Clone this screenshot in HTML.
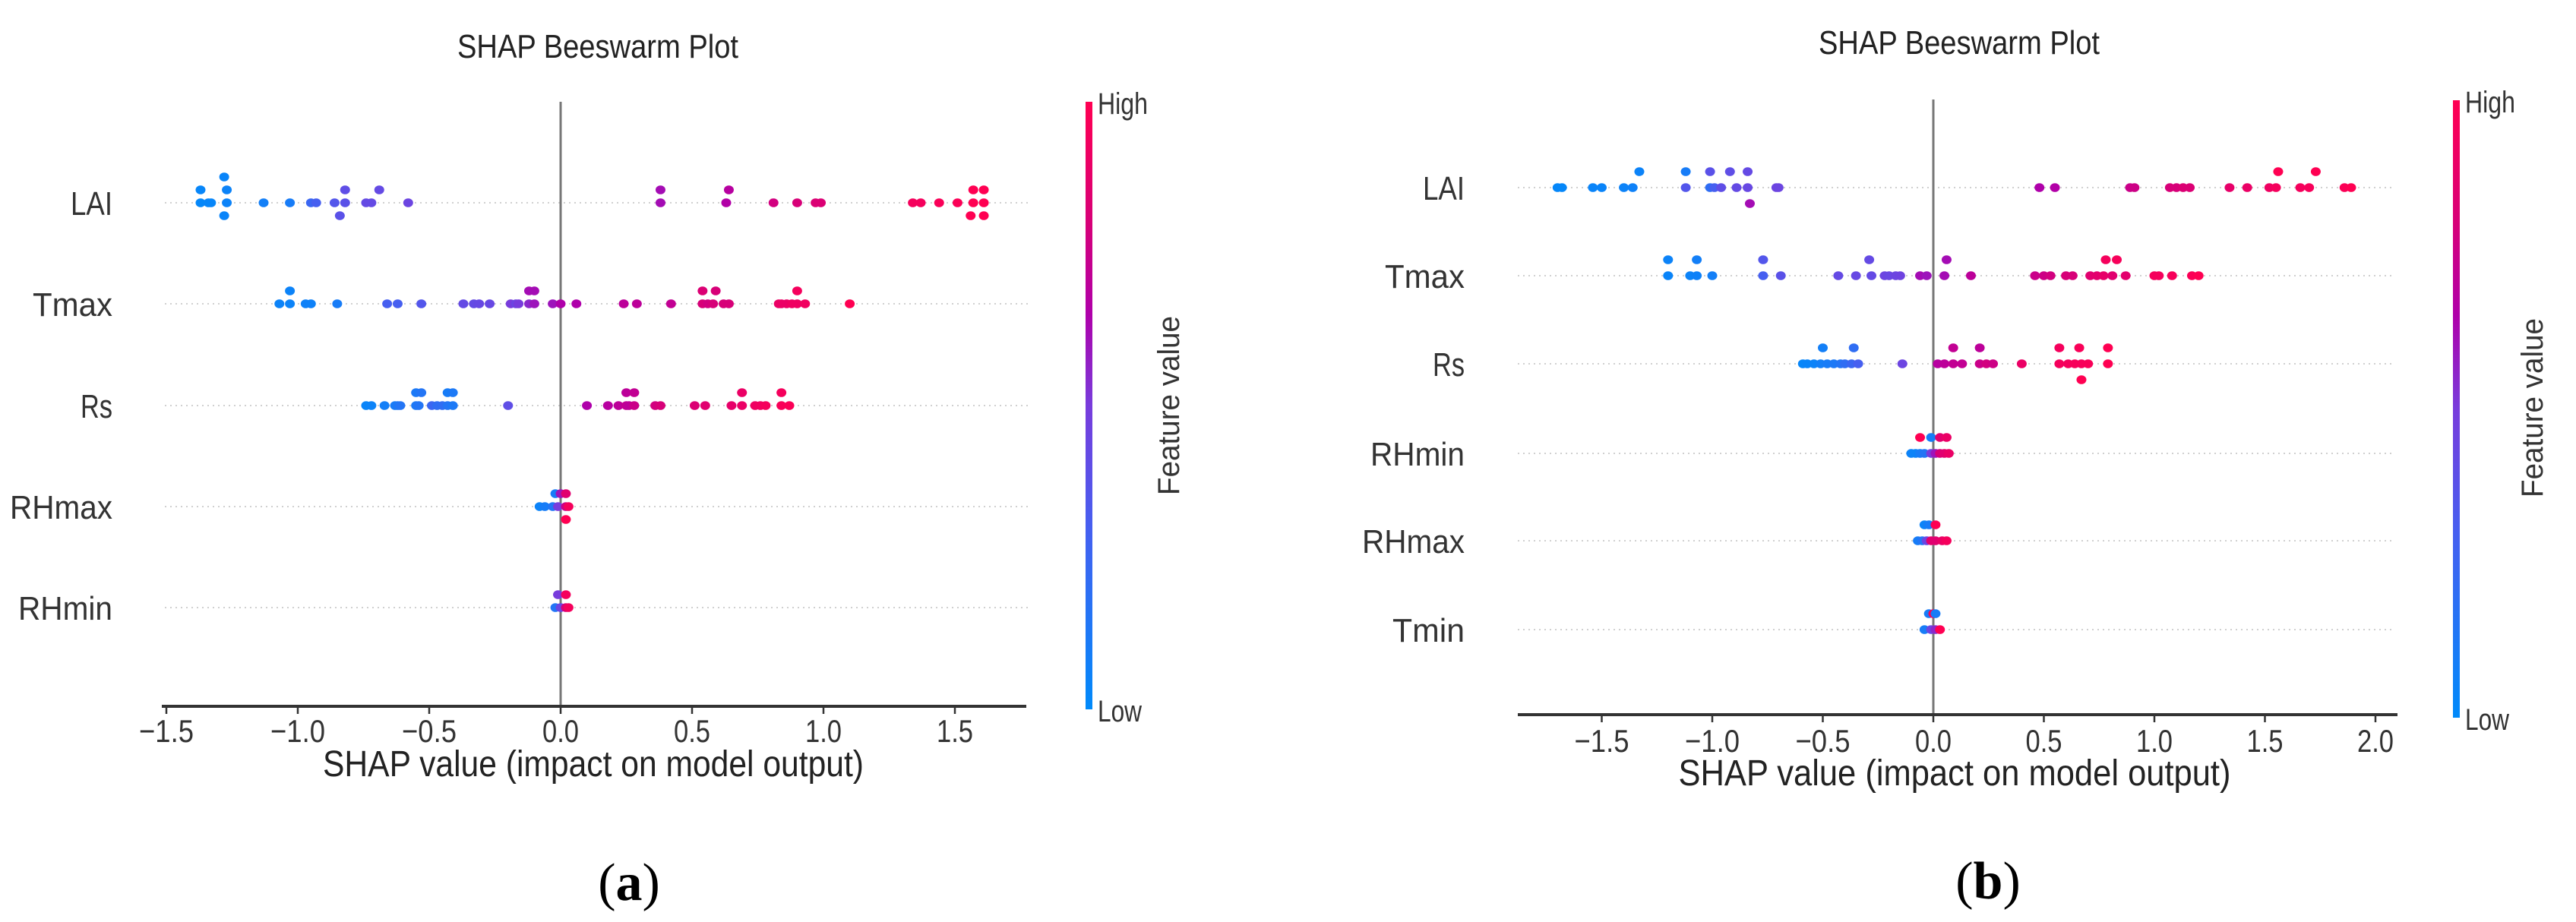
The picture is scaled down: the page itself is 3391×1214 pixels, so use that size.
<!DOCTYPE html>
<html><head><meta charset="utf-8">
<style>
html,body{margin:0;padding:0;background:#fff;}
svg{display:block;}
text{font-family:"Liberation Sans",sans-serif;}
text.serif{font-family:"Liberation Serif",serif;}
</style></head>
<body>
<svg id="chart" width="3391" height="1214" viewBox="0 0 3391 1214" xmlns="http://www.w3.org/2000/svg">
<defs>
<linearGradient id="cbar" x1="0" y1="1" x2="0" y2="0">
<stop offset="0" stop-color="rgb(0,138,250)"/>
<stop offset="0.3" stop-color="rgb(70,95,240)"/>
<stop offset="0.5" stop-color="rgb(120,60,220)"/>
<stop offset="0.65" stop-color="rgb(175,0,170)"/>
<stop offset="0.8" stop-color="rgb(215,0,120)"/>
<stop offset="1" stop-color="rgb(255,0,82)"/>
</linearGradient>
</defs>
<g id="panelA"></g>
<g id="panelB"></g>
</svg>
<script>
// ---------- Panel (a) data ----------
const featuresA = ["LAI","Tmax","Rs","RHmax","RHmin"];
const ticksA = [-1.5,-1.0,-0.5,0.0,0.5,1.0,1.5];
const tickLabelsA = ["\u22121.5","\u22121.0","\u22120.5","0.0","0.5","1.0","1.5"];
const a_LAI_shap = [-1.37,-1.34,-1.33,-1.27,-1.13,-1.03,-0.95,-0.93,-0.86,-0.82,-0.74,-0.72,-0.58,0.38,0.63,0.81,0.90,0.97,0.99,1.34,1.37,1.44,1.51,1.57,1.61,
  -1.37,-1.27,-0.82,-0.69,0.38,0.64,1.57,1.61, -1.28, -1.28,-0.84,1.56,1.61];
const a_LAI_lane = [0,0,0,0,0,0,0,0,0,0,0,0,0,0,0,0,0,0,0,0,0,0,0,0,0, -1,-1,-1,-1,-1,-1,-1,-1, -2, 1,1,1,1];
const a_LAI_fv = [0.02,0.03,0.03,0.05,0.08,0.1,0.25,0.3,0.35,0.38,0.42,0.42,0.45,0.62,0.66,0.78,0.8,0.82,0.82,0.95,0.95,0.97,0.98,1,1,
  0.03,0.05,0.4,0.42,0.62,0.68,1,1, 0.04, 0.04,0.38,1,1];
const a_Tmax_shap = [-1.07,-1.03,-0.97,-0.95,-0.85,-0.66,-0.62,-0.53,-0.37,-0.33,-0.31,-0.27,-0.19,-0.17,-0.16,-0.12,-0.10,-0.03,0.0,0.06,0.24,0.29,0.42,0.54,0.56,0.58,0.62,0.64,0.83,0.84,0.86,0.88,0.90,0.93,1.10,
  -1.03,-0.12,-0.10,0.54,0.59,0.90];
const a_Tmax_lane = [0,0,0,0,0,0,0,0,0,0,0,0,0,0,0,0,0,0,0,0,0,0,0,0,0,0,0,0,0,0,0,0,0,0,0, -1,-1,-1,-1,-1,-1];
const a_Tmax_fv = [0.05,0.05,0.06,0.06,0.1,0.3,0.3,0.35,0.42,0.42,0.43,0.43,0.5,0.45,0.5,0.55,0.6,0.6,0.65,0.65,0.7,0.7,0.72,0.8,0.78,0.8,0.8,0.8,0.9,0.9,0.9,0.92,0.92,0.93,1,
  0.05,0.62,0.62,0.82,0.8,0.95];
const a_Rs_shap = [-0.74,-0.72,-0.67,-0.63,-0.62,-0.61,-0.55,-0.54,-0.49,-0.47,-0.45,-0.43,-0.41,-0.20,0.10,0.18,0.22,0.25,0.26,0.28,0.36,0.38,0.51,0.55,0.65,0.69,0.74,0.76,0.78,0.84,0.87,
  -0.55,-0.53,-0.43,-0.41,0.25,0.28,0.69,0.84];
const a_Rs_lane = [0,0,0,0,0,0,0,0,0,0,0,0,0,0,0,0,0,0,0,0,0,0,0,0,0,0,0,0,0,0,0, -1,-1,-1,-1,-1,-1,-1,-1];
const a_Rs_fv = [0.04,0.05,0.08,0.1,0.12,0.15,0.12,0.15,0.25,0.2,0.2,0.15,0.12,0.4,0.65,0.68,0.7,0.72,0.7,0.75,0.78,0.8,0.82,0.85,0.88,0.9,0.92,0.93,0.95,0.97,0.98,
  0.12,0.15,0.1,0.12,0.7,0.72,0.9,0.95];
const a_RHmax_shap = [-0.08,-0.06,-0.03,-0.01,0.02,0.03, -0.02,0.00,0.02, 0.02];
const a_RHmax_lane = [0,0,0,0,0,0, -1,-1,-1, 1];
const a_RHmax_fv = [0.05,0.1,0.15,0.5,0.75,0.95, 0.1,0.6,0.85, 1];
const a_RHmin_shap = [-0.02,0.00,0.02,0.03, -0.01,0.02];
const a_RHmin_lane = [0,0,0,0, -1,-1];
const a_RHmin_fv = [0.15,0.45,0.8,0.95, 0.5,0.95];

// ---------- Panel (b) data ----------
const featuresB = ["LAI","Tmax","Rs","RHmin","RHmax","Tmin"];
const ticksB = [-1.5,-1.0,-0.5,0.0,0.5,1.0,1.5,2.0];
const tickLabelsB = ["\u22121.5","\u22121.0","\u22120.5","0.0","0.5","1.0","1.5","2.0"];
const b_LAI_shap = [-1.70,-1.68,-1.54,-1.50,-1.40,-1.36,-1.12,-1.01,-0.99,-0.96,-0.89,-0.84,-0.71,-0.70,0.48,0.55,0.89,0.91,1.07,1.10,1.13,1.16,1.34,1.42,1.52,1.55,1.66,1.70,1.86,1.89,
  -1.33,-1.12,-1.01,-0.92,-0.84,1.56,1.73, -0.83];
const b_LAI_lane = [0,0,0,0,0,0,0,0,0,0,0,0,0,0,0,0,0,0,0,0,0,0,0,0,0,0,0,0,0,0, -1,-1,-1,-1,-1,-1,-1, 1];
const b_LAI_fv = [0.02,0.02,0.04,0.04,0.05,0.06,0.35,0.2,0.3,0.4,0.42,0.43,0.45,0.45,0.65,0.66,0.75,0.76,0.8,0.8,0.82,0.82,0.88,0.9,0.92,0.95,0.95,0.96,0.98,1,
  0.05,0.1,0.38,0.4,0.42,1,1, 0.62];
const b_Tmax_shap = [-1.20,-1.10,-1.07,-1.00,-0.77,-0.69,-0.43,-0.35,-0.28,-0.22,-0.20,-0.17,-0.15,-0.06,-0.03,0.05,0.17,0.46,0.50,0.53,0.60,0.63,0.71,0.74,0.77,0.81,0.87,1.00,1.02,1.08,1.17,1.20,
  -1.20,-1.07,-0.77,-0.29,0.06,0.78,0.83];
const b_Tmax_lane = [0,0,0,0,0,0,0,0,0,0,0,0,0,0,0,0,0,0,0,0,0,0,0,0,0,0,0,0,0,0,0,0, -1,-1,-1,-1,-1,-1,-1];
const b_Tmax_fv = [0.04,0.05,0.06,0.08,0.3,0.38,0.42,0.43,0.42,0.45,0.44,0.45,0.46,0.62,0.6,0.62,0.7,0.75,0.76,0.78,0.8,0.8,0.85,0.86,0.88,0.85,0.86,0.95,0.95,0.96,0.98,1,
  0.05,0.08,0.35,0.42,0.62,0.95,0.96];
const b_Rs_shap = [-0.59,-0.57,-0.54,-0.51,-0.48,-0.45,-0.42,-0.40,-0.37,-0.34,-0.14,0.02,0.05,0.09,0.13,0.21,0.24,0.27,0.40,0.57,0.61,0.64,0.67,0.70,0.79,
  -0.50,-0.36,0.09,0.21,0.57,0.66,0.79, 0.67];
const b_Rs_lane = [0,0,0,0,0,0,0,0,0,0,0,0,0,0,0,0,0,0,0,0,0,0,0,0,0, -1,-1,-1,-1,-1,-1,-1, 1];
const b_Rs_fv = [0.03,0.04,0.05,0.08,0.1,0.12,0.15,0.2,0.25,0.3,0.45,0.68,0.7,0.72,0.72,0.75,0.78,0.76,0.9,0.95,0.95,0.96,0.96,0.97,1,
  0.08,0.2,0.72,0.7,0.95,0.97,1, 1];
const b_RHmin_shap = [-0.10,-0.08,-0.06,-0.04,-0.01,0.01,0.03,0.05,0.07, -0.06,-0.01,0.03,0.06];
const b_RHmin_lane = [0,0,0,0,0,0,0,0,0, -1,-1,-1,-1];
const b_RHmin_fv = [0.05,0.05,0.1,0.15,0.5,0.6,0.8,0.85,0.9, 1,0.1,0.85,0.9];
const b_RHmax_shap = [-0.07,-0.05,-0.03,-0.01,0.01,0.04,0.06, -0.04,-0.02,0.01];
const b_RHmax_lane = [0,0,0,0,0,0,0, -1,-1,-1];
const b_RHmax_fv = [0.1,0.15,0.45,0.85,0.85,0.9,0.95, 0.05,0.1,1];
const b_Tmin_shap = [-0.04,-0.01,0.01,0.03, -0.02,0.00,0.01];
const b_Tmin_lane = [0,0,0,0, -1,-1,-1];
const b_Tmin_fv = [0.1,0.45,0.55,1, 0.1,1,0.1];

const NS = "http://www.w3.org/2000/svg";
const stops = [[0,[0,138,250]],[0.3,[70,95,240]],[0.5,[120,60,220]],[0.65,[175,0,170]],[0.8,[215,0,120]],[1,[255,0,82]]];
function cmap(t){
  for(let i=1;i<stops.length;i++){
    if(t<=stops[i][0]){
      const a=stops[i-1],b=stops[i],f=(t-a[0])/(b[0]-a[0]);
      const c=a[1].map((v,k)=>Math.round(v+(b[1][k]-v)*f));
      return "rgb("+c.join(",")+")";
    }
  }
  return "rgb(255,0,82)";
}
function mk(parent,tag,attrs,txt){
  const e=document.createElementNS(NS,tag);
  for(const k in attrs) e.setAttribute(k,attrs[k]);
  if(txt!==undefined) e.textContent=txt;
  parent.appendChild(e);
  return e;
}
const labelW={"LAI":55,"Tmax":105,"Rs":42,"RHmax":135,"RHmin":124,"Tmin":95};

function drawPanel(g,cfg,features,series,ticks,tickLabels){
  const xs=v=>cfg.x0+v*cfg.ppu;
  const t=mk(g,"text",{x:cfg.titleX,y:cfg.titleY,"text-anchor":"middle","font-size":44,fill:"#222",textLength:cfg.titleW,lengthAdjust:"spacingAndGlyphs"},"SHAP Beeswarm Plot");
  
  
  features.forEach((f,i)=>{
    const y=cfg.rowY[i];
    const gl=mk(g,"line",{x1:cfg.gx1,x2:cfg.gx2,y1:y,y2:y,stroke:"#d0d0d0","stroke-width":2,"stroke-dasharray":"2,5"});
    
    
    const lb=mk(g,"text",{x:cfg.labelX,y:y+16,"text-anchor":"end","font-size":44,fill:"#333",textLength:labelW[f],lengthAdjust:"spacingAndGlyphs"},f);
    
    
  });
  const zl=mk(g,"line",{x1:xs(0),x2:xs(0),y1:cfg.zeroTop,y2:cfg.axisY,stroke:"#777","stroke-width":3});
  
  
  features.forEach((f,i)=>{
    const s=series[f];
    s.shap.forEach((v,j)=>{
      const d=mk(g,"ellipse",{cx:xs(v),cy:cfg.rowY[i]+s.lane[j]*cfg.laneH,rx:6.5,ry:5.8,fill:cmap(s.fv[j])});
      
      
    });
  });
  const ax=mk(g,"line",{x1:cfg.ax1,x2:cfg.ax2,y1:cfg.axisY,y2:cfg.axisY,stroke:"#333","stroke-width":4});
  
  
  ticks.forEach((v,k)=>{
    const tk=mk(g,"line",{x1:xs(v),x2:xs(v),y1:cfg.axisY,y2:cfg.axisY+10,stroke:"#333","stroke-width":2.5});
    
    
    const lab=tickLabels[k];
    const tl=mk(g,"text",{x:xs(v),y:cfg.tickY,"text-anchor":"middle","font-size":42,fill:"#333",textLength:lab.length>3?72:48,lengthAdjust:"spacingAndGlyphs"},lab);
    
    
  });
  const xl=mk(g,"text",{x:cfg.xlabX,y:cfg.xlabY,"text-anchor":"middle","font-size":48,fill:"#222",textLength:cfg.xlabW,lengthAdjust:"spacingAndGlyphs"},"SHAP value (impact on model output)");
  
  
  const cb=mk(g,"rect",{x:cfg.cbX,y:cfg.cbTop,width:9,height:cfg.cbBot-cfg.cbTop,fill:"url(#cbar)"});
  
  
  const hi=mk(g,"text",{x:cfg.cbX+16,y:cfg.cbTop+16,"font-size":40,fill:"#333",textLength:66,lengthAdjust:"spacingAndGlyphs"},"High");
  
  
  const lo=mk(g,"text",{x:cfg.cbX+16,y:cfg.cbBot+16,"font-size":40,fill:"#333",textLength:58,lengthAdjust:"spacingAndGlyphs"},"Low");
  
  
  const fvt=mk(g,"text",{x:0,y:0,"text-anchor":"middle","font-size":40,fill:"#333",textLength:236,lengthAdjust:"spacingAndGlyphs",transform:"translate("+cfg.fvX+","+cfg.fvY+") rotate(-90)"},"Feature value");
  
  
  const cap=mk(g,"text",{x:cfg.capX,y:cfg.capY,"text-anchor":"middle","font-size":70,fill:"#000","class":"serif"});
  
  
  mk(cap,"tspan",{},"(");
  mk(cap,"tspan",{"font-weight":"bold"},cfg.cap);
  mk(cap,"tspan",{},")");
}

drawPanel(document.getElementById("panelA"),{
  x0:738,ppu:346,rowY:[267,400,534,667,800],laneH:17,labelX:148,gx1:217,gx2:1356,
  zeroTop:134,axisY:930,ax1:213,ax2:1351,tickY:977,xlabX:781,xlabY:1022,xlabW:712,
  titleX:787,titleY:76,titleW:370,cbX:1429,cbTop:134,cbBot:934,fvX:1552,fvY:534,
  capX:828,capY:1185,cap:"a"
},featuresA,{
  LAI:{shap:a_LAI_shap,lane:a_LAI_lane,fv:a_LAI_fv},
  Tmax:{shap:a_Tmax_shap,lane:a_Tmax_lane,fv:a_Tmax_fv},
  Rs:{shap:a_Rs_shap,lane:a_Rs_lane,fv:a_Rs_fv},
  RHmax:{shap:a_RHmax_shap,lane:a_RHmax_lane,fv:a_RHmax_fv},
  RHmin:{shap:a_RHmin_shap,lane:a_RHmin_lane,fv:a_RHmin_fv}
},ticksA,tickLabelsA);

drawPanel(document.getElementById("panelB"),{
  x0:2545,ppu:291,rowY:[247,363,479,597,712,829],laneH:21,labelX:1928,gx1:1998,gx2:3153,
  zeroTop:131,axisY:941,ax1:1998,ax2:3156,tickY:990,xlabX:2573,xlabY:1034,xlabW:727,
  titleX:2579,titleY:71,titleW:370,cbX:3229,cbTop:132,cbBot:945,fvX:3347,fvY:537,
  capX:2617,capY:1183,cap:"b"
},featuresB,{
  LAI:{shap:b_LAI_shap,lane:b_LAI_lane,fv:b_LAI_fv},
  Tmax:{shap:b_Tmax_shap,lane:b_Tmax_lane,fv:b_Tmax_fv},
  Rs:{shap:b_Rs_shap,lane:b_Rs_lane,fv:b_Rs_fv},
  RHmin:{shap:b_RHmin_shap,lane:b_RHmin_lane,fv:b_RHmin_fv},
  RHmax:{shap:b_RHmax_shap,lane:b_RHmax_lane,fv:b_RHmax_fv},
  Tmin:{shap:b_Tmin_shap,lane:b_Tmin_lane,fv:b_Tmin_fv}
},ticksB,tickLabelsB);
</script>
</body></html>
